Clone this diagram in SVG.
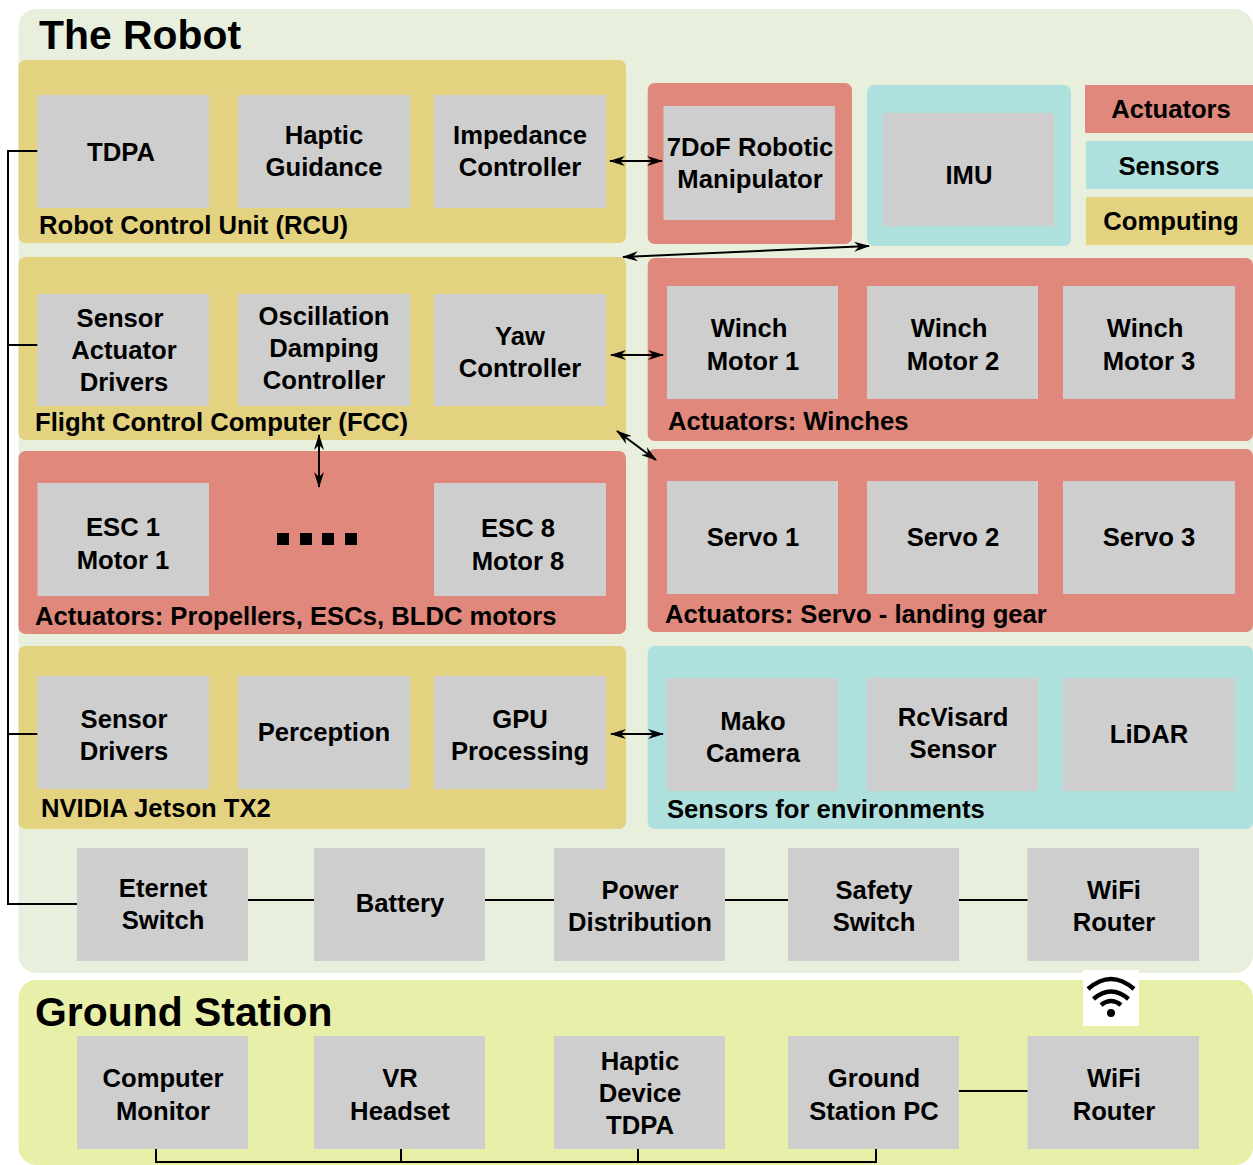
<svg xmlns="http://www.w3.org/2000/svg" width="1253" height="1165" viewBox="0 0 1253 1165">
<style>
text{font-family:"Liberation Sans",Arial,sans-serif;font-weight:700;font-size:25.65px;fill:#000}
.n rect{fill:#cecece}
.n text,.lg text{text-anchor:middle}
.y{fill:#e3d27f}.r{fill:#e0887b}.t{fill:#aee0de}
text.h{font-size:40.9px}
.w{fill:none;stroke:#000;stroke-width:4.5;stroke-linecap:butt}
.l{fill:none;stroke:#000;stroke-width:2}
.a{fill:none;stroke:#000;stroke-width:2;marker-start:url(#ah);marker-end:url(#ah)}
</style>
<defs>
<marker id="ah" viewBox="0 0 16 10" refX="15" refY="5" markerWidth="16" markerHeight="10" markerUnits="userSpaceOnUse" orient="auto-start-reverse"><path d="M0 0L16 5L0 10L5 5Z" fill="#000"/></marker>
</defs>
<g id="panels">
<rect x="18.500" y="9" width="1234.500" height="964" rx="18" fill="#e8efdc"/>
<rect x="18.500" y="980" width="1234.500" height="185" rx="18" fill="#e8efa9"/>
<rect class="y" x="18.500" y="60" width="607.500" height="183" rx="7"/>
<rect class="r" x="647.700" y="83" width="204.300" height="161" rx="7"/>
<rect class="t" x="867" y="85" width="204" height="161" rx="7"/>
<rect class="y" x="18.500" y="257" width="607.500" height="183" rx="7"/>
<rect class="r" x="647.700" y="258" width="605.300" height="183" rx="7"/>
<rect class="r" x="18.500" y="451" width="607.500" height="183" rx="7"/>
<rect class="r" x="647.700" y="449" width="605.300" height="183" rx="7"/>
<rect class="y" x="18.500" y="646" width="607.500" height="183" rx="7"/>
<rect class="t" x="647.700" y="646" width="605.300" height="183" rx="7"/>
</g>
<g id="connectors">
<path class="l" d="M37.500 151H8V904H77M8 345H37.500M8 734H37.500"/>
<path class="l" d="M248 900H314M485 900H554M725 900H788M959 900H1028M959 1091H1028"/>
<path class="l" d="M156 1149V1162H876V1149M401 1149V1162M638 1149V1162"/>
<path class="a" d="M610 161H662"/>
<path class="a" d="M623 257L869 246"/>
<path class="a" d="M611 355H663"/>
<path class="a" d="M319 435V487"/>
<path class="a" d="M617 431L656 460"/>
<path class="a" d="M611 734H663"/>
</g>
<g id="titles">
<text class="h" x="39" y="49">The Robot</text>
<text class="h" x="35" y="1026">Ground Station</text>
<text x="39" y="234">Robot Control Unit (RCU)</text>
<text x="35" y="431">Flight Control Computer (FCC)</text>
<text x="668" y="430">Actuators: Winches</text>
<text x="35" y="625">Actuators: Propellers, ESCs, BLDC motors</text>
<text x="665" y="623">Actuators: Servo - landing gear</text>
<text x="41" y="817">NVIDIA Jetson TX2</text>
<text x="667" y="818">Sensors for environments</text>
</g>
<g id="legend" class="lg">
<rect class="r" x="1085" y="85" width="168" height="48"/><text x="1171" y="118">Actuators</text>
<rect class="t" x="1086" y="141" width="167" height="48"/><text x="1169" y="175">Sensors</text>
<rect class="y" x="1086" y="197" width="167" height="48"/><text x="1171" y="230">Computing</text>
</g>
<g id="tdpa" class="n"><rect x="37.500" y="95" width="171.500" height="113"/><text x="121" y="161">TDPA</text></g>
<g id="haptic-guidance" class="n"><rect x="238" y="95" width="172" height="113"/><text x="324" y="144">Haptic</text><text x="324" y="176">Guidance</text></g>
<g id="impedance" class="n"><rect x="434" y="95" width="172" height="113"/><text x="520" y="144">Impedance</text><text x="520" y="176">Controller</text></g>
<g id="manipulator" class="n"><rect x="663.500" y="106" width="171.500" height="114"/><text x="750" y="156">7DoF Robotic</text><text x="750" y="188">Manipulator</text></g>
<g id="imu" class="n"><rect x="883" y="113" width="171" height="113"/><text x="969" y="184">IMU</text></g>
<g id="sensor-actuator" class="n"><rect x="37.500" y="294" width="171.500" height="112"/><text x="120" y="327">Sensor</text><text x="124" y="359">Actuator</text><text x="124" y="391">Drivers</text></g>
<g id="oscillation" class="n"><rect x="238" y="294" width="172" height="112"/><text x="324" y="325">Oscillation</text><text x="324" y="357">Damping</text><text x="324" y="389">Controller</text></g>
<g id="yaw" class="n"><rect x="434" y="294" width="172" height="112"/><text x="520" y="345">Yaw</text><text x="520" y="377">Controller</text></g>
<g id="winch1" class="n"><rect x="667" y="286" width="171" height="113"/><text x="749" y="337">Winch</text><text x="753" y="370">Motor 1</text></g>
<g id="winch2" class="n"><rect x="867" y="286" width="171" height="113"/><text x="949" y="337">Winch</text><text x="953" y="370">Motor 2</text></g>
<g id="winch3" class="n"><rect x="1063" y="286" width="172" height="113"/><text x="1145" y="337">Winch</text><text x="1149" y="370">Motor 3</text></g>
<g id="esc1" class="n"><rect x="37.500" y="483" width="171.500" height="113"/><text x="123" y="536">ESC 1</text><text x="123" y="569">Motor 1</text></g>
<g id="dots"><path d="M277 533h12v12h-12zM300 533h12v12h-12zM322 533h12v12h-12zM345 533h12v12h-12z" fill="#000"/></g>
<g id="esc8" class="n"><rect x="434" y="483" width="172" height="113"/><text x="518" y="537">ESC 8</text><text x="518" y="570">Motor 8</text></g>
<g id="servo1" class="n"><rect x="667" y="481" width="171" height="113"/><text x="753" y="546">Servo 1</text></g>
<g id="servo2" class="n"><rect x="867" y="481" width="171" height="113"/><text x="953" y="546">Servo 2</text></g>
<g id="servo3" class="n"><rect x="1063" y="481" width="172" height="113"/><text x="1149" y="546">Servo 3</text></g>
<g id="sensor-drivers" class="n"><rect x="37.500" y="676" width="171.500" height="113"/><text x="124" y="728">Sensor</text><text x="124" y="760">Drivers</text></g>
<g id="perception" class="n"><rect x="238" y="676" width="172" height="113"/><text x="324" y="741">Perception</text></g>
<g id="gpu" class="n"><rect x="434" y="676" width="172" height="113"/><text x="520" y="728">GPU</text><text x="520" y="760">Processing</text></g>
<g id="mako" class="n"><rect x="667" y="678" width="171" height="113"/><text x="753" y="730">Mako</text><text x="753" y="762">Camera</text></g>
<g id="rcvisard" class="n"><rect x="867" y="678" width="171" height="113"/><text x="953" y="726">RcVisard</text><text x="953" y="758">Sensor</text></g>
<g id="lidar" class="n"><rect x="1063" y="678" width="172" height="113"/><text x="1149" y="743">LiDAR</text></g>
<g id="ethernet" class="n"><rect x="77" y="848" width="171" height="113"/><text x="163" y="897">Eternet</text><text x="163" y="929">Switch</text></g>
<g id="battery" class="n"><rect x="314" y="848" width="171" height="113"/><text x="400" y="912">Battery</text></g>
<g id="power" class="n"><rect x="554" y="848" width="171" height="113"/><text x="640" y="899">Power</text><text x="640" y="931">Distribution</text></g>
<g id="safety" class="n"><rect x="788" y="848" width="171" height="113"/><text x="874" y="899">Safety</text><text x="874" y="931">Switch</text></g>
<g id="wifi-robot" class="n"><rect x="1027.500" y="848" width="171.500" height="113"/><text x="1114" y="899">WiFi</text><text x="1114" y="931">Router</text></g>
<g id="wifi-icon">
<rect x="1083" y="970" width="56" height="56" fill="#fff"/>
<path class="w" d="M1088 989Q1111 969 1134 989M1093.500 999Q1111 984 1128.500 999M1101 1005Q1111 997 1121 1005"/>
<circle cx="1111" cy="1013" r="4" fill="#000"/>
</g>
<g id="monitor" class="n"><rect x="77" y="1036" width="171" height="113"/><text x="163" y="1087">Computer</text><text x="163" y="1120">Monitor</text></g>
<g id="vr" class="n"><rect x="314" y="1036" width="171" height="113"/><text x="400" y="1087">VR</text><text x="400" y="1120">Headset</text></g>
<g id="haptic-device" class="n"><rect x="554" y="1036" width="171" height="113"/><text x="640" y="1070">Haptic</text><text x="640" y="1102">Device</text><text x="640" y="1134">TDPA</text></g>
<g id="gs-pc" class="n"><rect x="788" y="1036" width="171" height="113"/><text x="874" y="1087">Ground</text><text x="874" y="1120">Station PC</text></g>
<g id="wifi-ground" class="n"><rect x="1027.500" y="1036" width="171.500" height="113"/><text x="1114" y="1087">WiFi</text><text x="1114" y="1120">Router</text></g>
</svg>
